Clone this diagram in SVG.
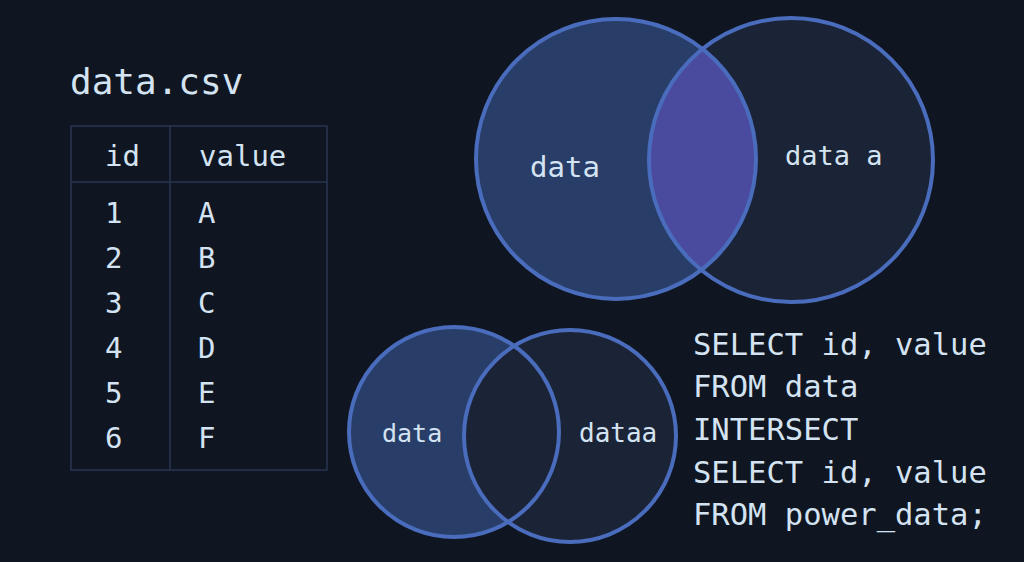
<svg xmlns="http://www.w3.org/2000/svg" width="1024" height="562" viewBox="0 0 1024 562">
<defs>
<style>
.t{font-family:"DejaVu Sans Mono","Liberation Mono",monospace;fill:#d4e3f2}
.grid{stroke:#2a3550;stroke-width:1.5;fill:none}
.ring{stroke:#4a6cbc;stroke-width:4}
</style>
<clipPath id="clipA"><circle cx="616" cy="159" r="140"/></clipPath>
</defs>
<rect width="1024" height="562" fill="#0f1521"/>

<g id="table">
<text class="t" x="70" y="94" font-size="36">data.csv</text>
<rect class="grid" x="71" y="126" width="256" height="344"/>
<line class="grid" x1="71" y1="182" x2="327" y2="182"/>
<line class="grid" x1="170" y1="126" x2="170" y2="470"/>
<g class="t" font-size="29">
<text x="105" y="166">id</text><text x="199" y="166">value</text>
<text x="105" y="223">1</text><text x="198" y="223">A</text>
<text x="105" y="268">2</text><text x="198" y="268">B</text>
<text x="105" y="313">3</text><text x="198" y="313">C</text>
<text x="105" y="358">4</text><text x="198" y="358">D</text>
<text x="105" y="403">5</text><text x="198" y="403">E</text>
<text x="105" y="448">6</text><text x="198" y="448">F</text>
</g>
</g>

<g id="venn-top">
<circle cx="616" cy="159" r="140" fill="#283e68"/>
<circle cx="791" cy="160" r="142" fill="#1b2336"/>
<circle cx="791" cy="160" r="142" fill="#4a4a9e" clip-path="url(#clipA)"/>
<circle class="ring" cx="616" cy="159" r="140" fill="none"/>
<circle class="ring" cx="791" cy="160" r="142" fill="none"/>
<text class="t" x="530" y="177" font-size="29">data</text>
<text class="t" x="785" y="165" font-size="27">data a</text>
</g>

<g id="venn-bottom">
<circle cx="454" cy="432" r="105" fill="#283e68"/>
<circle cx="570" cy="436" r="106" fill="#1b2336"/>
<circle class="ring" cx="454" cy="432" r="105" fill="none"/>
<circle class="ring" cx="570" cy="436" r="106" fill="none"/>
<text class="t" x="382" y="442" font-size="25">data</text>
<text class="t" x="579" y="442" font-size="26">dataa</text>
</g>

<g id="sql" class="t" font-size="30.5">
<text x="693" y="355">SELECT id, value</text>
<text x="693" y="397">FROM data</text>
<text x="693" y="440">INTERSECT</text>
<text x="693" y="483">SELECT id, value</text>
<text x="693" y="525">FROM power_data;</text>
</g>
</svg>
